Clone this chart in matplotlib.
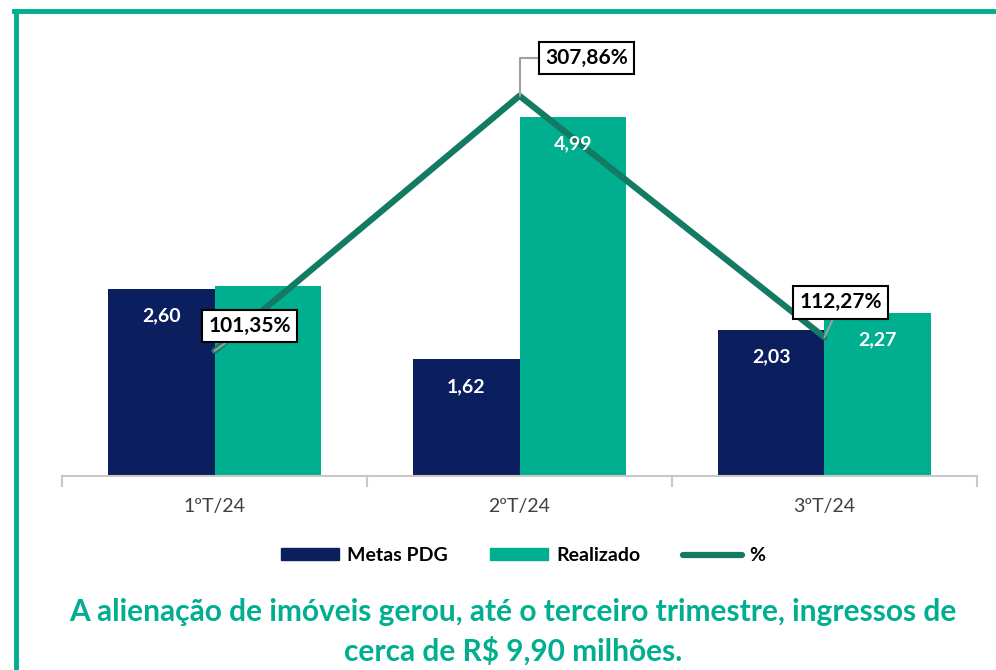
import matplotlib.pyplot as plt
from matplotlib.lines import Line2D
from matplotlib.patches import Patch
import numpy as np

# data
trimestres = ['1ºT/24', '2ºT/24', '3ºT/24']
metas = [2.60, 1.62, 2.03]
realizado = [2.64, 4.99, 2.27]
pct = [101.35, 307.86, 112.27]
metas_lbl = ['2,60', '1,62', '2,03']
real_lbl = ['', '4,99', '2,27']
pct_lbl = ['101,35%', '307,86%', '112,27%']

navy = '#0b1f5e'
teal = '#00ae90'
dark_teal = '#137a63'

plt.rcParams['font.family'] = ['Lato', 'DejaVu Sans']

fig = plt.figure(figsize=(9.96, 6.70), dpi=100)
ax = fig.add_axes([62/996, 0.2896, (977-62)/996, 0.6507])
ax2 = ax.twinx()

x = np.arange(len(trimestres))
w = 0.35
b1 = ax.bar(x - w/2, metas, w, color=navy)
b2 = ax.bar(x + w/2, realizado, w, color=teal)

ax.set_xlim(-0.5, 2.5)
ax.set_ylim(0, 436/71.9)
ax2.set_ylim(0, 436/1.235)

ax2.plot(x, pct, color=dark_teal, lw=4.5, solid_capstyle='round', zorder=3)

# bar value labels (on ax2 so they sit above the line)
for i in range(len(x)):
    ax2.annotate(metas_lbl[i], (x[i] - w/2, metas[i]), xycoords=ax.transData,
                 xytext=(0, -27), textcoords='offset pixels',
                 ha='center', va='center', color='white', fontsize=14, fontweight='bold', zorder=4)
    if real_lbl[i]:
        ax2.annotate(real_lbl[i], (x[i] + w/2, realizado[i]), xycoords=ax.transData,
                     xytext=(0, -27), textcoords='offset pixels',
                     ha='center', va='center', color='white', fontsize=14, fontweight='bold', zorder=4)

offsets = [(35, 25), (67, 38), (16, 35)]
for i in range(len(x)):
    cs = 'angle,angleA=0,angleB=90,rad=0' if i == 1 else 'arc3'
    ax2.annotate(pct_lbl[i], (x[i], pct[i]), xytext=offsets[i], textcoords='offset pixels',
                 ha='center', va='center', fontsize=15, fontweight='bold', color='black',
                 bbox=dict(boxstyle='square,pad=0.3', fc='white', ec='black', lw=1.5),
                 arrowprops=dict(arrowstyle='-', color='#a0a0a0', lw=1.5, connectionstyle=cs,
                                 shrinkA=0, shrinkB=0),
                 zorder=5)

for a in (ax, ax2):
    for s in ('top', 'right', 'left'):
        a.spines[s].set_visible(False)
    a.set_yticks([])
ax2.spines['bottom'].set_visible(False)
ax.spines['bottom'].set_color('#c8c8c8')
ax.spines['bottom'].set_linewidth(1.5)

ax.set_xticks(x)
ax.set_xticklabels(trimestres, fontsize=14, color='#404040')
ax.tick_params(axis='x', which='major', length=0, pad=16)
ax.set_xticks([-0.5, 0.5, 1.5, 2.5], minor=True)
ax.tick_params(axis='x', which='minor', length=8, width=1.5, color='#c8c8c8')

handles = [Patch(color=navy), Patch(color=teal),
           Line2D([0], [0], color=dark_teal, lw=4.5, solid_capstyle='round')]
fig.legend(handles, ['Metas PDG', 'Realizado', '%'], loc='center', bbox_to_anchor=(0.525, 0.171),
           ncol=3, frameon=False, prop={'size': 14, 'weight': 'bold'},
           handlelength=3.0, handleheight=0.55, columnspacing=2.2, handletextpad=0.4)

fig.text(0.515, 1 - 612/670, 'A alienação de imóveis gerou, até o terceiro trimestre, ingressos de',
         ha='center', va='center', fontsize=21.5, fontweight='bold', color=teal)
fig.text(0.515, 1 - 651/670, 'cerca de R$ 9,90 milhões.',
         ha='center', va='center', fontsize=21.5, fontweight='bold', color=teal)

# teal frame
fig.add_artist(Line2D([14/996, 1], [1 - 11/670, 1 - 11/670], color=teal, lw=3.5))
fig.add_artist(Line2D([16/996, 16/996], [0, 1 - 11/670], color=teal, lw=3.5))

fig.savefig('out.png', dpi=100)
